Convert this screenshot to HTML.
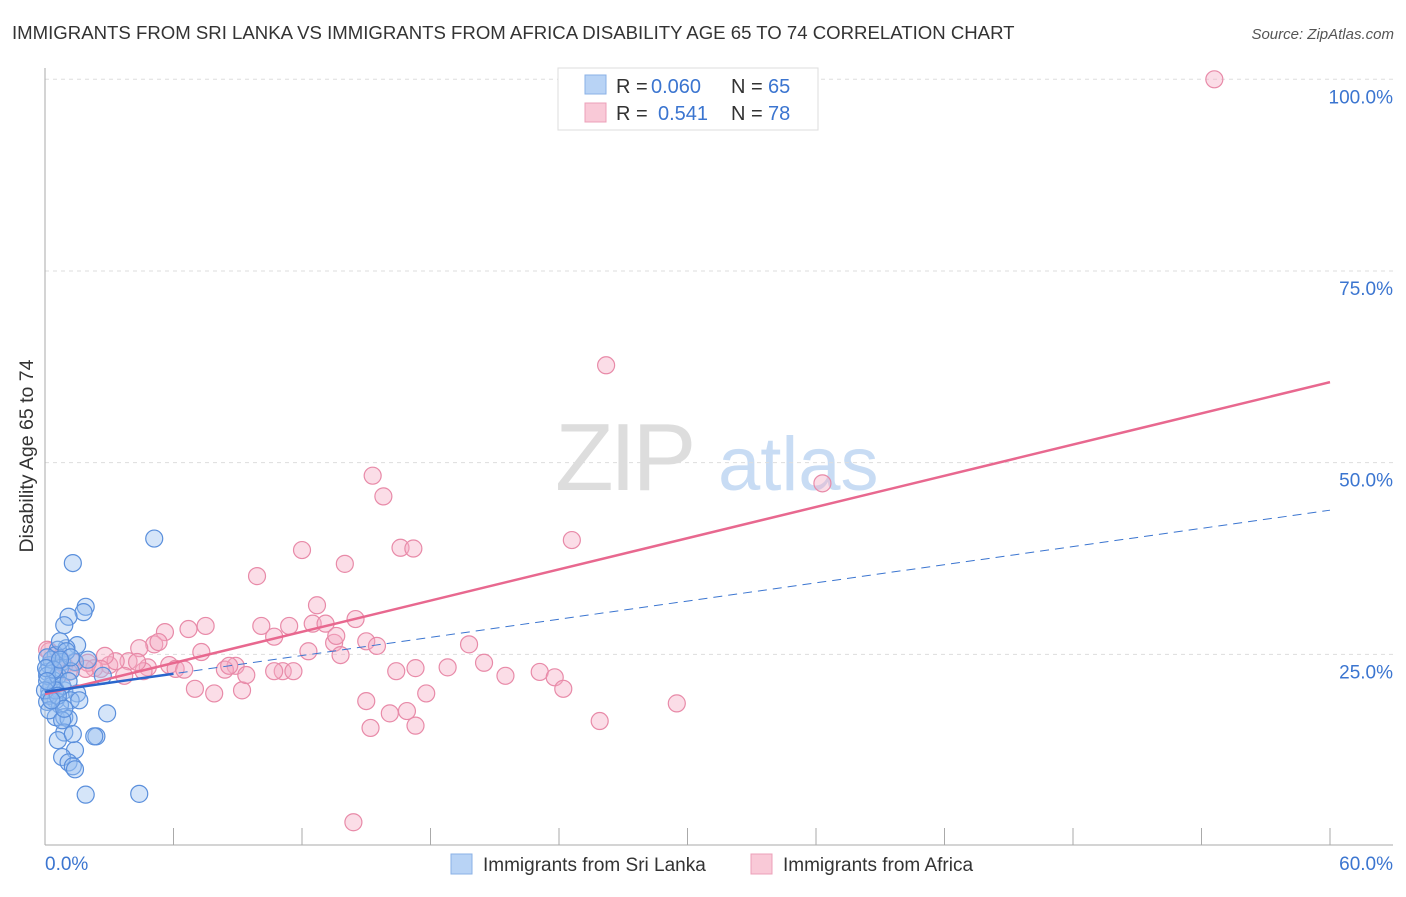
<!DOCTYPE html>
<html><head><meta charset="utf-8"><style>
body{margin:0;background:#fff;font-family:"Liberation Sans",sans-serif}
svg text{font-family:"Liberation Sans",sans-serif}
</style></head><body>
<svg id="chart" width="1406" height="892" xmlns="http://www.w3.org/2000/svg">
<text x="12" y="39" font-size="18.6" fill="#333">IMMIGRANTS FROM SRI LANKA VS IMMIGRANTS FROM AFRICA DISABILITY AGE 65 TO 74 CORRELATION CHART</text>
<text x="1394" y="39" font-size="15" fill="#555" text-anchor="end" font-style="italic">Source: ZipAtlas.com</text>
<g>
<text x="555" y="490" font-size="96" fill="#ddd" font-family="Liberation Serif" letter-spacing="-4">ZIP</text>
<text x="718" y="490" font-size="76" fill="#c8dcf4">atlas</text>
</g>
<g id="grid"></g>
<g id="axes"></g>
<g id="marks"></g>
<text transform="translate(33,456) rotate(-90)" font-size="19.5" fill="#333" text-anchor="middle">Disability Age 65 to 74</text>
<g>
<rect x="558" y="68" width="260" height="62" fill="#fff" stroke="#ddd"/>
<rect x="585" y="75" width="21" height="19" fill="#b8d3f5" stroke="#8ab0e6"/>
<rect x="585" y="103" width="21" height="19" fill="#f9c9d7" stroke="#eca0b8"/>
<text x="616" y="93" font-size="20" fill="#333">R =</text>
<text x="651" y="93" font-size="20" fill="#3b75d0">0.060</text>
<text x="731" y="93" font-size="20" fill="#333">N =</text>
<text x="768" y="93" font-size="20" fill="#3b75d0">65</text>
<text x="616" y="120" font-size="20" fill="#333">R =</text>
<text x="658" y="120" font-size="20" fill="#3b75d0">0.541</text>
<text x="731" y="120" font-size="20" fill="#333">N =</text>
<text x="768" y="120" font-size="20" fill="#3b75d0">78</text>
</g>
<g>
<rect x="451" y="854" width="21" height="20" fill="#b8d3f5" stroke="#8ab0e6"/>
<text x="483" y="871" font-size="19" fill="#333">Immigrants from Sri Lanka</text>
<rect x="751" y="854" width="21" height="20" fill="#f9c9d7" stroke="#eca0b8"/>
<text x="783" y="871" font-size="19" fill="#333">Immigrants from Africa</text>
</g>
</svg>
<script>
const xTicks=[0,6,12,18,24,30,36,42,48,54,60];
const yTicks=[25,50,75,100];
const yTickLabels=["25.0%","50.0%","75.0%","100.0%"];
const blueX=[5.1,1.3,1.9,1.8,1.1,0.9,1.5,1.0,0.6,0.5,0.8,1.4,0.2,0.7,0.1,2.7,0.4,0.9,0.2,1.5,0.5,1.2,0.1,0.7,2.9,0.5,0.9,1.1,2.4,2.3,0.9,0.6,1.4,0.8,1.1,1.3,1.4,1.9,4.4,0.2,0.3,0.1,0.6,0.8,1.2,0.3,0.1,0.5,0.0,0.2,0.8,1.3,1.6,2.0,0.7,1.0,1.2,0.4,0.05,0.6,0.1,0.9,0.3,1.1,0.7];
const blueY=[40.1,36.9,31.2,30.5,29.9,28.8,26.2,25.8,25.6,24.9,24.0,24.0,23.6,23.2,22.7,22.2,21.6,20.3,20.3,19.9,19.0,19.0,18.8,18.4,17.3,16.8,16.8,16.6,14.3,14.3,14.8,13.8,12.5,11.6,10.9,10.4,10.0,6.7,6.8,19.6,20.9,22.2,22.2,20.9,22.8,24.3,24.6,20.3,20.3,17.7,16.4,14.6,19.0,24.3,26.7,25.4,24.6,23.0,23.2,19.6,21.5,17.9,19.0,21.5,24.3];
const pinkX=[15.3,15.8,12.0,14.0,16.6,17.2,24.6,9.9,12.7,26.2,54.6,36.3,5.6,6.7,7.5,5.1,5.3,7.3,10.1,11.4,10.7,12.5,13.1,13.5,12.3,14.5,13.6,15.0,13.8,15.5,8.9,7.0,7.9,9.2,8.4,9.4,11.1,10.7,11.6,16.4,17.3,18.8,20.5,19.8,21.5,23.1,23.8,24.2,17.8,15.0,16.1,16.9,15.2,17.3,25.9,29.5,14.4,5.8,6.1,6.5,4.4,3.9,3.0,3.3,2.3,2.0,1.4,0.9,0.7,0.2,3.7,4.8,8.6,4.6,2.8,1.9,2.6,4.3,1.1,0.1];
const pinkY=[48.3,45.6,38.6,36.8,38.9,38.8,39.9,35.2,31.4,62.7,100,47.3,27.9,28.3,28.7,26.3,26.6,25.3,28.7,28.7,27.3,29.0,29.0,26.5,25.4,29.6,27.4,26.7,24.9,26.1,23.5,20.5,19.9,20.3,23.0,22.3,22.8,22.8,22.8,22.8,23.2,23.3,23.9,26.3,22.2,22.7,22.0,20.5,19.9,18.9,17.3,17.6,15.4,15.7,16.3,18.6,3.1,23.6,23.1,23.0,25.8,24.1,23.6,24.1,23.2,23.9,23.9,23.6,24.5,25.4,22.2,23.3,23.5,22.8,24.8,23.1,23.1,24.0,22.7,25.6];
const blueLine=[20.1,43.8];
const pinkLine=[19.8,60.5];
const NS="http://www.w3.org/2000/svg";
const X=v=>45+v/60*1285, Y=v=>846-v/100*766.7;
function mk(t,a,p){const e=document.createElementNS(NS,t);for(const k in a)e.setAttribute(k,a[k]);document.getElementById(p).appendChild(e);return e;}
yTicks.forEach((t,i)=>{
 const g=mk('line',{x1:45,x2:1393,y1:Y(t),y2:Y(t),stroke:'#ddd','stroke-dasharray':'4,4'},'grid');
 
 
 const l=mk('text',{x:1393,y:Y(t)+24,'font-size':19,fill:'#3b75d0','text-anchor':'end'},'axes');
 
 
 l.textContent=yTickLabels[i];
});
let ax=mk('line',{x1:45,x2:1393,y1:845,y2:845,stroke:'#aaa'},'axes');


ax=mk('line',{x1:45,x2:45,y1:68,y2:845,stroke:'#aaa'},'axes');


xTicks.forEach(t=>{const e=mk('line',{x1:X(t),x2:X(t),y1:828,y2:845,stroke:'#aaa'},'axes');
 
 });
let xl=mk('text',{x:45,y:870,'font-size':19,fill:'#3b75d0'},'axes');xl.textContent='0.0%';


xl=mk('text',{x:1393,y:870,'font-size':19,fill:'#3b75d0','text-anchor':'end'},'axes');xl.textContent='60.0%';


pinkX.forEach((v,i)=>{const c=mk('circle',{cx:X(v),cy:Y(pinkY[i]),r:8.5,fill:'rgba(246,170,195,0.4)',stroke:'#e88aa8','stroke-width':1.2},'marks');
 
 });
blueX.forEach((v,i)=>{const c=mk('circle',{cx:X(v),cy:Y(blueY[i]),r:8.5,fill:'rgba(150,190,240,0.4)',stroke:'#5a8fdc','stroke-width':1.2},'marks');
 
 });
let ln=mk('line',{x1:X(0),y1:Y(pinkLine[0]),x2:X(60),y2:Y(pinkLine[1]),stroke:'#e8688f','stroke-width':2.5},'marks');


const bAt=x=>blueLine[0]+(blueLine[1]-blueLine[0])*x/60;
ln=mk('line',{x1:X(0),y1:Y(bAt(0)),x2:X(60),y2:Y(bAt(60)),stroke:'#3b75d0','stroke-width':1,'stroke-dasharray':'9,6'},'marks');


ln=mk('line',{x1:X(0),y1:Y(bAt(0)),x2:X(6),y2:Y(bAt(6)),stroke:'#2a66cc','stroke-width':2.5},'marks');


</script>
</body></html>
